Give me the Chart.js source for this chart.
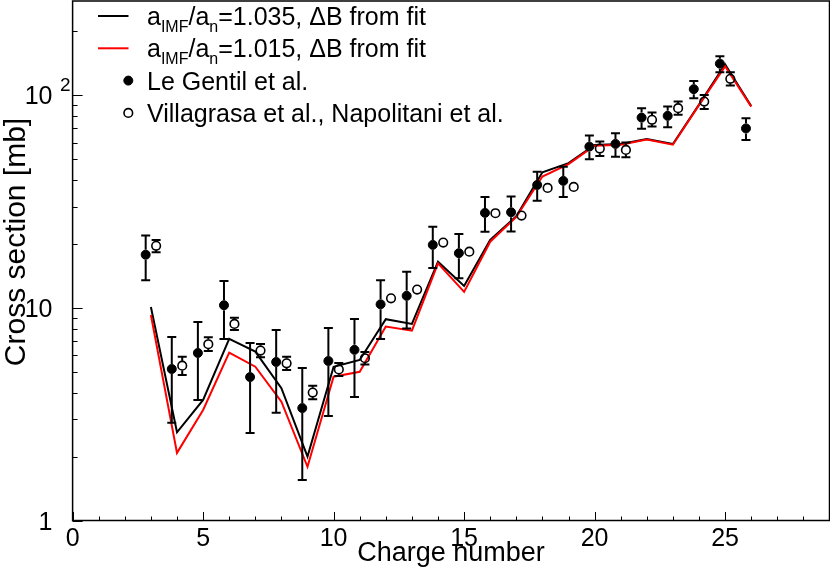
<!DOCTYPE html>
<html>
<head>
<meta charset="utf-8">
<script src="https://cdn.jsdelivr.net/npm/chart.js@4.4.1/dist/chart.umd.min.js"></script>
<style>
  html, body { margin: 0; padding: 0; background: #fff; }
  #crossChart { display: block; }
</style>
</head>
<body>
<canvas id="crossChart" width="830" height="569"></canvas>
<script>
// model curves (charge number -> cross section in mb)
const chargeModel = [3, 4, 5, 6, 7, 8, 9, 10, 11, 12, 13, 14, 15, 16, 17, 18, 19, 20, 21, 22, 23, 24, 25, 26];
const model1035 = [10.1, 2.60, 3.69, 7.15, 6.23, 4.19, 2.00, 5.29, 5.69, 8.85, 8.41, 16.5, 12.7, 20.9, 27.0, 43.5, 48.0, 58.5, 59.1, 62.4, 59.1, 90.5, 140, 89.2];
const model1015 = [9.27, 2.08, 3.31, 6.16, 5.29, 3.62, 1.79, 4.75, 5.01, 8.17, 7.82, 16.2, 11.9, 20.5, 26.8, 41.5, 47.5, 58.0, 58.6, 62.0, 58.6, 90.0, 137, 88.5];

// Le Gentil et al.
const chargeLeGentil = [3, 4, 5, 6, 7, 8, 9, 10, 11, 12, 13, 14, 15, 16, 17, 18, 19, 20, 21, 22, 23, 24, 25, 26];
const leGentil = [17.8, 5.16, 6.14, 10.3, 4.73, 5.57, 3.38, 5.63, 6.35, 10.4, 11.4, 19.8, 18.1, 28.0, 28.2, 37.9, 39.6, 57.4, 59.1, 78.6, 80.1, 107, 141, 69.9];
const leGentilHi = [21.9, 7.30, 8.59, 13.4, 6.84, 7.88, 5.22, 8.05, 8.88, 13.5, 14.8, 24.1, 22.3, 33.3, 33.4, 43.7, 46.1, 64.7, 66.4, 87.1, 88.6, 117, 153, 78.1];
const leGentilLo = [13.5, 2.88, 3.69, 7.15, 2.58, 3.21, 1.55, 3.10, 3.81, 7.15, 8.0, 15.4, 13.8, 22.8, 22.9, 31.9, 33.3, 50.1, 51.5, 69.6, 70.9, 97.0, 128.6, 61.7];

// Villagrasa et al., Napolitani et al.
const chargeVillagrasa = [3, 4, 5, 6, 7, 8, 9, 10, 11, 12, 13, 14, 15, 16, 17, 18, 19, 20, 21, 22, 23, 24, 25];
const villagrasa = [19.6, 5.35, 6.75, 8.41, 6.30, 5.49, 4.00, 5.14, 5.80, 11.1, 12.2, 20.3, 18.4, 27.9, 27.2, 36.7, 37.1, 56.2, 55.4, 76.7, 87.1, 93.5, 119.6];
const villagrasaHi = [20.9, 5.90, 7.28, 9.0, 6.77, 5.90, 4.30, 5.51, 6.21, null, null, null, null, null, null, null, null, 60.6, 60.0, 83.0, 93.5, 100.5, 128.6];
const villagrasaLo = [18.3, 4.84, 6.28, 7.88, 5.86, 5.11, 3.72, 4.79, 5.42, null, null, null, null, null, null, null, null, 51.9, 51.2, 71.3, 81.0, 86.4, 111.2];

// axis ticks
const xMajorTicks = [0, 5, 10, 15, 20, 25];
const yMajorTicks = [1, 10, 100];

// small horizontal shift of the two data sets around the integer charge
const LE_SHIFT = -0.2;
const VIL_SHIFT = 0.2;

const FONT = '"Liberation Sans", Arial, Helvetica, sans-serif';

function points(xs, ys, shift) {
    return xs.map((x, i) => ({ x: x + shift, y: ys[i] }));
}

// vertical error bars with end caps, skipping the marker itself
const errorBars = {
    id: 'errorBars',
    afterDatasetsDraw(chart) {
        const ctx = chart.ctx;
        const yScale = chart.scales.y;
        const cap = 4.5;
        chart.data.datasets.forEach((ds, di) => {
            if (!ds.errHi) return;
            const meta = chart.getDatasetMeta(di);
            const r = ds.pointRadius + 0.5;
            ctx.save();
            ctx.strokeStyle = '#000';
            ctx.lineWidth = 2;
            meta.data.forEach((pt, i) => {
                if (ds.errHi[i] == null) return;
                const yHi = yScale.getPixelForValue(ds.errHi[i]);
                const yLo = yScale.getPixelForValue(ds.errLo[i]);
                ctx.beginPath();
                if (yHi < pt.y - r) { ctx.moveTo(pt.x, yHi); ctx.lineTo(pt.x, pt.y - r); }
                if (yLo > pt.y + r) { ctx.moveTo(pt.x, pt.y + r); ctx.lineTo(pt.x, yLo); }
                ctx.moveTo(pt.x - cap, yHi); ctx.lineTo(pt.x + cap, yHi);
                ctx.moveTo(pt.x - cap, yLo); ctx.lineTo(pt.x + cap, yLo);
                ctx.stroke();
            });
            ctx.restore();
        });
    }
};

// frame, inward ticks, labels and titles like a ROOT canvas
const rootAxes = {
    id: 'rootAxes',
    afterDraw(chart) {
        const ctx = chart.ctx;
        const a = chart.chartArea;
        const xs = chart.scales.x, ys = chart.scales.y;
        ctx.save();

        // ticks
        ctx.strokeStyle = '#000';
        ctx.lineWidth = 1;
        ctx.beginPath();
        for (let v = Math.ceil(xs.min); v <= xs.max; v++) {
            const px = Math.round(xs.getPixelForValue(v)) + 0.5;
            const len = v % 5 === 0 ? 8.5 : 4;
            ctx.moveTo(px, a.bottom);
            ctx.lineTo(px, a.bottom - len);
        }
        for (let dec = 1; dec <= ys.max; dec *= 10) {
            for (let m = 1; m <= 9; m++) {
                const v = dec * m;
                if (v > ys.max) break;
                const py = Math.round(ys.getPixelForValue(v)) + 0.5;
                const len = m === 1 ? 10 : 5;
                ctx.moveTo(a.left, py);
                ctx.lineTo(a.left + len, py);
            }
        }
        ctx.stroke();

        // frame
        ctx.lineWidth = 1.5;
        ctx.strokeRect(a.left, a.top, a.right - a.left, a.bottom - a.top);

        // x labels
        ctx.fillStyle = '#000';
        ctx.font = '25px ' + FONT;
        ctx.textAlign = 'center';
        ctx.textBaseline = 'alphabetic';
        xMajorTicks.forEach(v => {
            ctx.fillText(String(v), xs.getPixelForValue(v), 546);
        });

        // y labels (powers of ten)
        ctx.textAlign = 'right';
        yMajorTicks.forEach(v => {
            const py = ys.getPixelForValue(v);
            const exp = Math.round(Math.log10(v));
            ctx.font = '25px ' + FONT;
            if (exp <= 1) {
                ctx.fillText(String(v), 52.5, py + 9);
            } else {
                ctx.fillText('10', 52.5, py + 9);
                ctx.font = '19px ' + FONT;
                ctx.textAlign = 'left';
                ctx.fillText(String(exp), 60, py - 4);
                ctx.textAlign = 'right';
            }
        });

        // axis titles
        ctx.font = '27px ' + FONT;
        ctx.textAlign = 'center';
        ctx.fillText('Charge number', 451, 560.5);
        ctx.save();
        ctx.translate(24.5, 242);
        ctx.rotate(-Math.PI / 2);
        ctx.font = '30px ' + FONT;
        ctx.fillText('Cross section [mb]', 0, 0);
        ctx.restore();

        ctx.restore();
    }
};

// legend with subscripts, drawn from the dataset styles
function drawRich(ctx, parts, x, y) {
    parts.forEach(p => {
        ctx.font = (p.sub ? '16px ' : '25px ') + FONT;
        ctx.fillText(p.t, x, p.sub ? y + 7 : y);
        x += ctx.measureText(p.t).width;
    });
}

const rootLegend = {
    id: 'rootLegend',
    afterDraw(chart) {
        const ctx = chart.ctx;
        const dsets = chart.data.datasets;
        ctx.save();
        ctx.textAlign = 'left';
        ctx.textBaseline = 'alphabetic';
        ctx.fillStyle = '#000';
        dsets.forEach((ds, i) => {
            const base = 25 + i * 32.3;
            const cy = base - 9;
            if (ds.showLine) {
                ctx.strokeStyle = ds.borderColor;
                ctx.lineWidth = ds.borderWidth;
                ctx.beginPath();
                ctx.moveTo(98, cy);
                ctx.lineTo(128.5, cy);
                ctx.stroke();
            } else {
                ctx.beginPath();
                ctx.arc(128.3, cy, ds.pointRadius, 0, Math.PI * 2);
                ctx.fillStyle = ds.pointBackgroundColor;
                ctx.fill();
                ctx.strokeStyle = ds.pointBorderColor;
                ctx.lineWidth = ds.pointBorderWidth;
                ctx.stroke();
                ctx.fillStyle = '#000';
            }
            drawRich(ctx, ds.legendParts, 147, base);
        });
        ctx.restore();
    }
};

const ctx = document.getElementById('crossChart').getContext('2d');

const crossChart = new Chart(ctx, {
    type: 'scatter',
    data: {
        datasets: [
            {
                label: 'aIMF/an=1.035, ΔB from fit',
                legendParts: [{ t: 'a' }, { t: 'IMF', sub: true }, { t: '/a' }, { t: 'n', sub: true }, { t: '=1.035, ΔB from fit' }],
                data: points(chargeModel, model1035, 0),
                showLine: true,
                borderColor: '#000000',
                borderWidth: 2,
                pointRadius: 0,
                order: 3
            },
            {
                label: 'aIMF/an=1.015, ΔB from fit',
                legendParts: [{ t: 'a' }, { t: 'IMF', sub: true }, { t: '/a' }, { t: 'n', sub: true }, { t: '=1.015, ΔB from fit' }],
                data: points(chargeModel, model1015, 0),
                showLine: true,
                borderColor: '#ff0000',
                borderWidth: 2,
                pointRadius: 0,
                order: 2
            },
            {
                label: 'Le Gentil et al.',
                legendParts: [{ t: 'Le Gentil et al.' }],
                data: points(chargeLeGentil, leGentil, LE_SHIFT),
                errHi: leGentilHi,
                errLo: leGentilLo,
                showLine: false,
                pointRadius: 4.5,
                pointBackgroundColor: '#000000',
                pointBorderColor: '#000000',
                pointBorderWidth: 1,
                order: 1
            },
            {
                label: 'Villagrasa et al., Napolitani et al.',
                legendParts: [{ t: 'Villagrasa et al., Napolitani et al.' }],
                data: points(chargeVillagrasa, villagrasa, VIL_SHIFT),
                errHi: villagrasaHi,
                errLo: villagrasaLo,
                showLine: false,
                pointRadius: 4.3,
                pointBackgroundColor: 'rgba(255,255,255,0)',
                pointBorderColor: '#000000',
                pointBorderWidth: 1.6,
                order: 0
            }
        ]
    },
    options: {
        responsive: false,
        devicePixelRatio: 1,
        animation: false,
        layout: {
            autoPadding: false,
            padding: { left: 72.6, right: 0.5, top: 1, bottom: 48.5 }
        },
        plugins: {
            legend: { display: false },
            tooltip: { enabled: false }
        },
        scales: {
            x: { type: 'linear', min: 0, max: 29, display: false },
            y: { type: 'logarithmic', min: 1, max: 278, display: false }
        }
    },
    plugins: [errorBars, rootAxes, rootLegend]
});
</script>
</body>
</html>
